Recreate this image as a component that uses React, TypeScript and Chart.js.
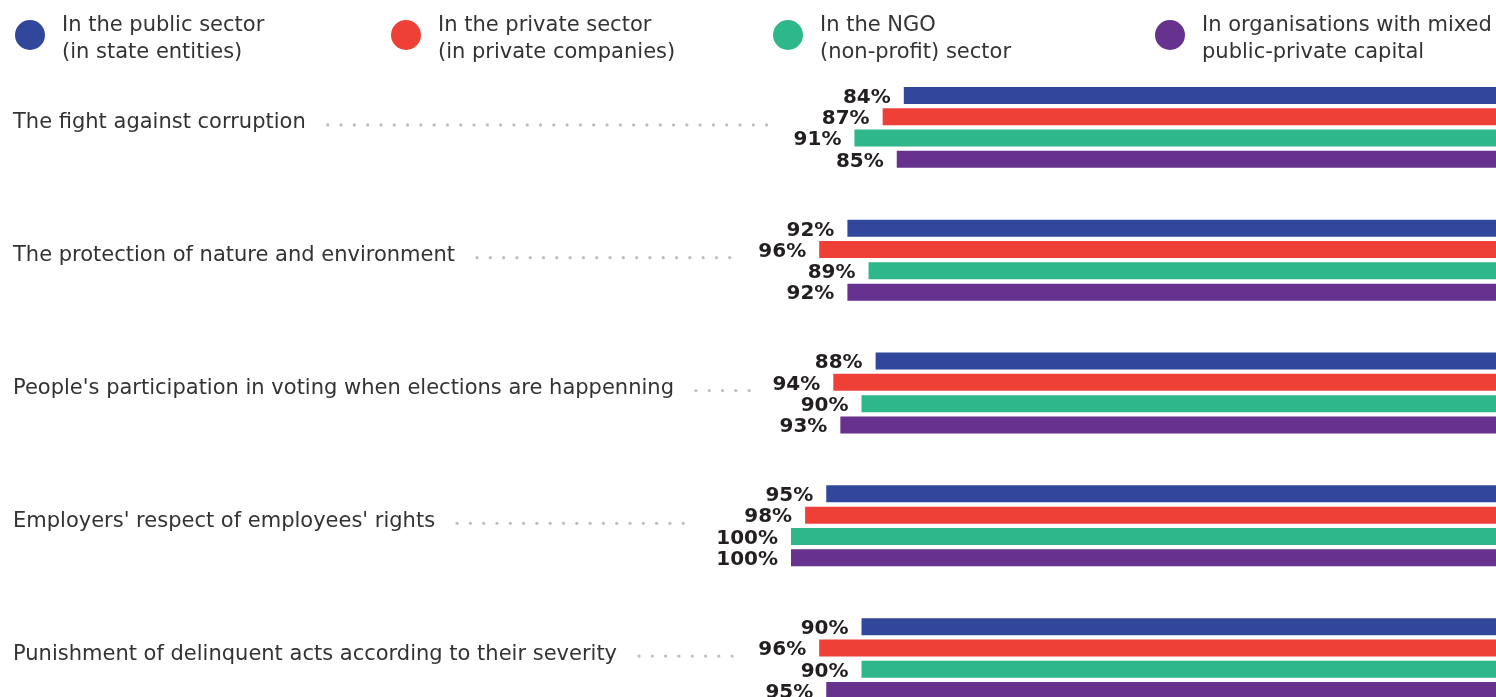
import React, { useEffect, useRef } from "react";
import { Chart, registerables } from "chart.js";

Chart.register(...registerables);

// Statements rated as important, share of respondents per sector of employment
const categories = [
  "The fight against corruption",
  "The protection of nature and environment",
  "People's participation in voting when elections are happenning",
  "Employers' respect of employees' rights",
  "Punishment of delinquent acts according to their severity",
];

const publicSector = [84, 92, 88, 95, 90];
const privateSector = [87, 96, 94, 98, 96];
const ngoSector = [91, 89, 90, 100, 90];
const mixedCapital = [85, 92, 93, 100, 95];

const seriesNames = [
  ["In the public sector", "(in state entities)"],
  ["In the private sector", "(in private companies)"],
  ["In the NGO", "(non-profit) sector"],
  ["In organisations with mixed", "public-private capital"],
];
const seriesColors = ["#31479B", "#EE4037", "#2DB78A", "#67318E"];
const seriesValues = [publicSector, privateSector, ngoSector, mixedCapital];

const FONT = '"DejaVu Sans", "Open Sans", sans-serif';
const CANVAS_W = 1496;
const CANVAS_H = 740;
const LEGEND_X = [15, 391, 773, 1155];

// Draws the two-line legend, value labels, category names and dotted leaders
const overlayPlugin = {
  id: "overlay",
  afterDatasetsDraw(chart: any) {
    const ctx: CanvasRenderingContext2D = chart.ctx;
    ctx.save();

    // legend
    seriesNames.forEach((lines, i) => {
      const x0 = LEGEND_X[i];
      ctx.fillStyle = seriesColors[i];
      ctx.beginPath();
      ctx.arc(x0 + 15, 35, 15, 0, Math.PI * 2);
      ctx.fill();
      ctx.fillStyle = "#333333";
      ctx.font = `21px ${FONT}`;
      ctx.textAlign = "left";
      ctx.textBaseline = "alphabetic";
      ctx.fillText(lines[0], x0 + 47, 31);
      ctx.fillText(lines[1], x0 + 47, 58);
    });

    // value labels to the left of each bar
    const groupLeft = categories.map(() => Infinity);
    ctx.font = `bold 20px ${FONT}`;
    ctx.textAlign = "right";
    ctx.textBaseline = "alphabetic";
    ctx.fillStyle = "#231F20";
    chart.data.datasets.forEach((ds: any, di: number) => {
      const meta = chart.getDatasetMeta(di);
      meta.data.forEach((bar: any, i: number) => {
        const left = Math.min(bar.x, bar.base);
        const text = `${ds.data[i]}%`;
        const xr = left - 13;
        ctx.fillText(text, xr, bar.y + 7.3);
        groupLeft[i] = Math.min(groupLeft[i], xr - ctx.measureText(text).width);
      });
    });

    // category names with dotted leaders
    const yScale = chart.scales.y;
    categories.forEach((name, i) => {
      const yc = yScale.getPixelForValue(i);
      ctx.font = `21px ${FONT}`;
      ctx.textAlign = "left";
      ctx.fillStyle = "#333333";
      ctx.fillText(name, 13, yc + 1);
      const end = 13 + ctx.measureText(name).width;
      ctx.fillStyle = "#BDBDBD";
      for (let x = end + 22; x <= groupLeft[i] - 22; x += 13.3) {
        ctx.beginPath();
        ctx.arc(x, yc - 2.5, 1.6, 0, Math.PI * 2);
        ctx.fill();
      }
    });

    ctx.restore();
  },
};

export default function App() {
  const canvasRef = useRef<HTMLCanvasElement | null>(null);

  useEffect(() => {
    const canvas = canvasRef.current;
    if (!canvas) return;
    const chart = new Chart(canvas, {
      type: "bar",
      data: {
        labels: categories,
        datasets: seriesValues.map((values, i) => ({
          label: seriesNames[i].join(" "),
          data: values,
          backgroundColor: seriesColors[i],
          borderWidth: 0,
          categoryPercentage: 0.6416,
          barPercentage: 0.798,
        })),
      },
      options: {
        indexAxis: "y",
        responsive: false,
        animation: false,
        devicePixelRatio: 1,
        layout: { padding: { left: 791, right: 0, top: 61, bottom: CANVAS_H - 725 } },
        scales: {
          x: { type: "linear", min: 0, max: 100, reverse: true, display: false },
          y: { type: "category", display: false, offset: true },
        },
        plugins: {
          legend: { display: false },
          tooltip: { enabled: false },
        },
      },
      plugins: [overlayPlugin],
    });
    return () => chart.destroy();
  }, []);

  return (
    <div
      style={{
        position: "fixed",
        top: 0,
        left: 0,
        width: CANVAS_W,
        height: 697,
        overflow: "hidden",
        background: "#ffffff",
      }}
    >
      <canvas ref={canvasRef} width={CANVAS_W} height={CANVAS_H} style={{ display: "block" }} />
    </div>
  );
}
